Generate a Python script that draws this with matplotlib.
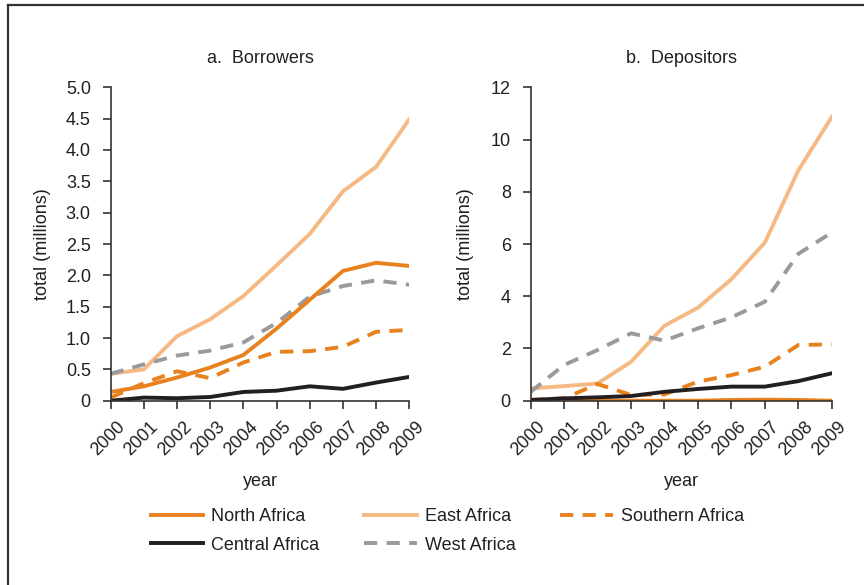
import numpy as np
import matplotlib
matplotlib.use('Agg')
import matplotlib.pyplot as plt
from matplotlib.lines import Line2D
from matplotlib.transforms import ScaledTranslation

plt.rcParams['font.family'] = ['Liberation Sans', 'DejaVu Sans']

years = [2000, 2001, 2002, 2003, 2004, 2005, 2006, 2007, 2008, 2009]

# borrowers, millions
borr_north = [0.14, 0.23, 0.37, 0.53, 0.73, 1.15, 1.61, 2.07, 2.20, 2.15]
borr_east = [0.43, 0.50, 1.03, 1.30, 1.67, 2.16, 2.66, 3.34, 3.73, 4.49]
borr_south = [0.05, 0.28, 0.47, 0.36, 0.61, 0.78, 0.79, 0.86, 1.10, 1.13]
borr_central = [0.00, 0.05, 0.04, 0.06, 0.14, 0.16, 0.23, 0.19, 0.29, 0.38]
borr_west = [0.43, 0.58, 0.72, 0.80, 0.93, 1.24, 1.66, 1.83, 1.92, 1.85]

# depositors, millions
dep_north = [0.0, 0.0, 0.0, 0.0, 0.0, 0.0, 0.03, 0.04, 0.03, 0.0]
dep_east = [0.47, 0.56, 0.66, 1.49, 2.87, 3.56, 4.65, 6.05, 8.81, 10.86]
dep_south = [0.03, 0.09, 0.64, 0.22, 0.24, 0.73, 0.98, 1.30, 2.13, 2.16]
dep_central = [0.03, 0.09, 0.13, 0.18, 0.34, 0.45, 0.54, 0.54, 0.75, 1.05]
dep_west = [0.34, 1.37, 1.94, 2.58, 2.30, 2.77, 3.19, 3.79, 5.62, 6.44]

c_dark = '#E8821E'; c_light = '#F5B984'; c_grey = '#9A9A9C'; c_black = '#231F20'
c_text = '#231F20'
dash = (0, (3.4, 2.4))
lw = 2.8
fs = 13

fig = plt.figure(figsize=(8.64, 5.85), dpi=100)
ax1 = fig.add_axes([0.1281, 0.3150, 0.3456, 0.5358])
ax2 = fig.add_axes([0.6142, 0.3150, 0.3484, 0.5358])

def panel(ax, title, north, east, south, central, west, ymax, yticks, ylabels, ylab_x):
    ax.plot(years, east, color=c_light, lw=lw)
    ax.plot(years, west, color=c_grey, lw=lw, ls=dash)
    ax.plot(years, south, color=c_dark, lw=lw, ls=dash)
    ax.plot(years, north, color=c_dark, lw=lw)
    ax.plot(years, central, color=c_black, lw=lw)
    ax.set_xlim(2000, 2009); ax.set_ylim(0, ymax)
    ax.set_xticks(years)
    ax.set_xticklabels([str(y) for y in years], rotation=45, ha='right', va='top', rotation_mode='anchor')
    ax.set_yticks(yticks); ax.set_yticklabels(ylabels)
    for s in ['top', 'right']:
        ax.spines[s].set_visible(False)
    for s in ['left', 'bottom']:
        ax.spines[s].set_color('#333333'); ax.spines[s].set_linewidth(1.2)
    ax.tick_params(direction='out', length=5.8, width=1.2, color='#333333', labelsize=fs, labelcolor=c_text)
    ax.tick_params(axis='y', pad=8.5)
    ax.tick_params(axis='x', pad=7)
    for lab in ax.get_xticklabels():
        lab.set_transform(lab.get_transform() + ScaledTranslation(0.06, 0, fig.dpi_scale_trans))
    ax.set_title(title, fontsize=fs, color=c_text, pad=17.7)
    ax.set_ylabel('total (millions)', fontsize=fs, color=c_text)
    ax.yaxis.set_label_coords(ylab_x, 0.5)
    ax.set_xlabel('year', fontsize=fs, color=c_text)
    ax.xaxis.set_label_coords(0.5, -0.23)
    ax.patch.set_visible(False)

panel(ax1, 'a.  Borrowers', borr_north, borr_east, borr_south, borr_central, borr_west,
      5.0, np.arange(0, 5.01, 0.5), ['0'] + ['%.1f' % v for v in np.arange(0.5, 5.01, 0.5)], -0.20)
panel(ax2, 'b.  Depositors', dep_north, dep_east, dep_south, dep_central, dep_west,
      12, range(0, 13, 2), [str(v) for v in range(0, 13, 2)], -0.188)

handles = [Line2D([], [], color=c_dark, lw=lw), Line2D([], [], color=c_black, lw=lw),
           Line2D([], [], color=c_light, lw=lw), Line2D([], [], color=c_grey, lw=lw, ls=dash),
           Line2D([], [], color=c_dark, lw=lw, ls=dash)]
labels = ['North Africa', 'Central Africa', 'East Africa', 'West Africa', 'Southern Africa']
leg = fig.legend(handles, labels, ncol=3, loc='upper left', bbox_to_anchor=(0.1744, 0.1316),
                 frameon=False, fontsize=fs, handlelength=2.9, handletextpad=0.44,
                 columnspacing=2.5, labelspacing=0.65, borderaxespad=0, borderpad=0)
for t in leg.get_texts():
    t.set_color(c_text)

# outer frame on left and top
fig.add_artist(Line2D([0.0087, 0.0087], [0, 0.9915], color='#333333', lw=1.6, transform=fig.transFigure))
fig.add_artist(Line2D([0.0087, 1.0], [0.9915, 0.9915], color='#333333', lw=1.6, transform=fig.transFigure))

fig.savefig('out.png', dpi=100)
